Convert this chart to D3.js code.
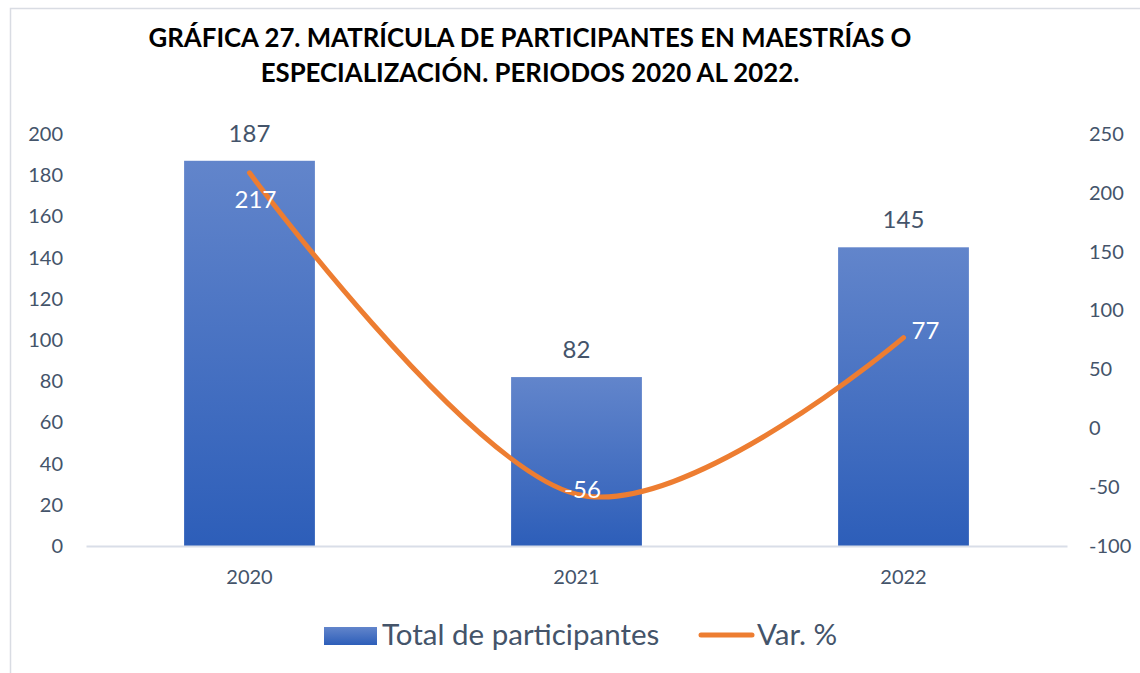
<!DOCTYPE html>
<html>
	<head>
		<meta charset="utf-8">
		<title>Gráfica 27</title>
		<script type="text/javascript" src="https://cdn.jsdelivr.net/npm/d3@7"></script>
		<style>
			body { margin: 0; background: #fff; }
			text { font-family: Lato, "Open Sans", sans-serif; }
		</style>
	</head>
	<body>
		<script>

		var years = ["2020", "2021", "2022"];
		var totals = [187, 82, 145];
		var variation = [217, -56, 77];
		var varLabelPlace = ["below", "center", "right"];
		var leftTicks = [0, 20, 40, 60, 80, 100, 120, 140, 160, 180, 200];
		var rightTicks = [-100, -50, 0, 50, 100, 150, 200, 250];
		var titleLines = [
			"GRÁFICA 27. MATRÍCULA DE PARTICIPANTES EN MAESTRÍAS O",
			"ESPECIALIZACIÓN. PERIODOS 2020 AL 2022."
		];
		var legendNames = ["Total de participantes", "Var. %"];

		var svg_width = 1140;
		var svg_height = 673;
		var textColor = "#44546A";
		var orange = "#ED7D31";

		var svg = d3.select("body").append("svg")
			.attr("width", svg_width)
			.attr("height", svg_height);

		var defs = svg.append("defs");
		var grad = defs.append("linearGradient")
			.attr("id", "barGrad")
			.attr("x1", 0).attr("y1", 0).attr("x2", 0).attr("y2", 1);
		grad.append("stop").attr("offset", "0%").attr("stop-color", "#6285CB");
		grad.append("stop").attr("offset", "100%").attr("stop-color", "#2D5EB9");

		// chart frame
		svg.append("rect")
			.attr("x", 10.5).attr("y", 8.5)
			.attr("width", 1200).attr("height", 800)
			.attr("fill", "none")
			.attr("stroke", "#D9DCE3")
			.attr("stroke-width", 1.5);

		// title
		svg.append("g").selectAll("text")
			.data(titleLines)
			.enter()
			.append("text")
			.attr("x", 530)
			.attr("y", function(d, i) { return 47 + i * 35; })
			.attr("text-anchor", "middle")
			.attr("font-size", 25.8)
			.attr("font-weight", "bold")
			.attr("fill", "#000")
			.text(function(d) { return d; });

		var x = d3.scaleBand().domain(years).range([86, 1067])
			.paddingInner(0.6).paddingOuter(0.3);
		var yL = d3.scaleLinear().domain([0, 200]).range([546, 134]);
		var yR = d3.scaleLinear().domain([-100, 250]).range([546, 134]);

		// left axis
		var gL = svg.append("g")
			.attr("transform", "translate(63,0)")
			.call(d3.axisLeft(yL).tickValues(leftTicks).tickFormat(String)
				.tickSize(0).tickPadding(0));
		gL.select(".domain").remove();
		gL.selectAll("text")
			.attr("font-size", 20)
			.attr("font-family", "Lato")
			.attr("fill", textColor);

		// right axis
		var gR = svg.append("g")
			.attr("transform", "translate(1089,0)")
			.call(d3.axisRight(yR).tickValues(rightTicks).tickFormat(String)
				.tickSize(0).tickPadding(0));
		gR.select(".domain").remove();
		gR.selectAll("text")
			.attr("font-size", 20)
			.attr("font-family", "Lato")
			.attr("fill", textColor);

		// bars
		svg.append("g").selectAll("rect")
			.data(totals)
			.enter()
			.append("rect")
			.attr("x", function(d, i) { return x(years[i]); })
			.attr("y", function(d) { return yL(d); })
			.attr("width", x.bandwidth())
			.attr("height", function(d) { return yL(0) - yL(d); })
			.attr("fill", "url(#barGrad)");

		// bottom axis
		var gB = svg.append("g")
			.attr("transform", "translate(0," + yL(0) + ")")
			.call(d3.axisBottom(x).tickSize(0).tickPadding(24));
		gB.select(".domain")
			.attr("stroke", "#D9DEE8")
			.attr("stroke-width", 2);
		gB.selectAll("text")
			.attr("font-size", 20)
			.attr("font-family", "Lato")
			.attr("fill", textColor);

		// bar value labels
		svg.append("g").selectAll("text")
			.data(totals)
			.enter()
			.append("text")
			.attr("x", function(d, i) { return x(years[i]) + x.bandwidth() / 2; })
			.attr("y", function(d) { return yL(d) - 19; })
			.attr("text-anchor", "middle")
			.attr("font-size", 24)
			.attr("fill", textColor)
			.text(function(d) { return d; });

		// variation line
		var cx = function(i) { return x(years[i]) + x.bandwidth() / 2; };
		var line = d3.line()
			.x(function(d, i) { return cx(i); })
			.y(function(d) { return yR(d); })
			.curve(d3.curveCatmullRom.alpha(0));
		svg.append("path")
			.datum(variation)
			.attr("d", line)
			.attr("fill", "none")
			.attr("stroke", orange)
			.attr("stroke-width", 5)
			.attr("stroke-linecap", "round");

		var place = {
			below: { dx: 6, dy: 35, anchor: "middle" },
			center: { dx: 6, dy: 4, anchor: "middle" },
			right: { dx: 8, dy: 1, anchor: "start" }
		};
		svg.append("g").selectAll("text")
			.data(variation)
			.enter()
			.append("text")
			.attr("x", function(d, i) { return cx(i) + place[varLabelPlace[i]].dx; })
			.attr("y", function(d, i) { return yR(d) + place[varLabelPlace[i]].dy; })
			.attr("text-anchor", function(d, i) { return place[varLabelPlace[i]].anchor; })
			.attr("font-size", 24)
			.attr("fill", "#fff")
			.text(function(d) { return d; });

		// legend
		var legend = svg.append("g");
		legend.append("rect")
			.attr("x", 324).attr("y", 627)
			.attr("width", 53).attr("height", 18)
			.attr("fill", "url(#barGrad)");
		legend.append("text")
			.attr("x", 382).attr("y", 645)
			.attr("font-size", 29.5)
			.attr("fill", textColor)
			.text(legendNames[0]);
		legend.append("line")
			.attr("x1", 701).attr("x2", 752)
			.attr("y1", 635).attr("y2", 635)
			.attr("stroke", orange)
			.attr("stroke-width", 5)
			.attr("stroke-linecap", "round");
		legend.append("text")
			.attr("x", 757).attr("y", 645)
			.attr("font-size", 29.5)
			.attr("fill", textColor)
			.text(legendNames[1]);

		</script>
	</body>
</html>
